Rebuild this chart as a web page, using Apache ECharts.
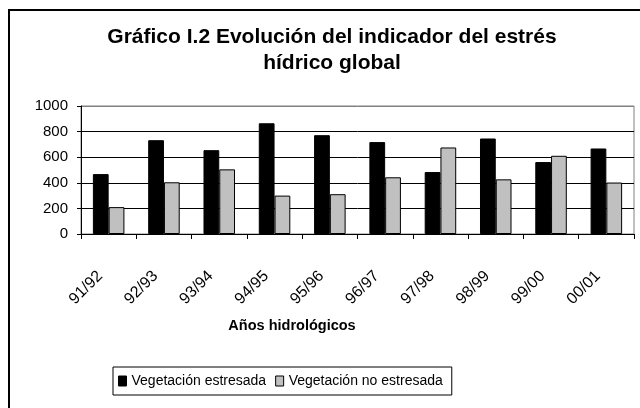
<!DOCTYPE html>
<html>
<head>
<meta charset="utf-8">
<script src="https://cdn.jsdelivr.net/npm/echarts@6/dist/echarts.min.js"></script>
<style>
  html, body { margin: 0; padding: 0; background: #fff; }
  #chart { width: 640px; height: 408px; }
</style>
</head>
<body>
<div id="chart"></div>
<script>
var years = ["91/92", "92/93", "93/94", "94/95", "95/96", "96/97", "97/98", "98/99", "99/00", "00/01"];
var estresada = [468, 733, 655, 865, 772, 718, 484, 746, 562, 668];
var noEstresada = [210, 404, 505, 300, 311, 443, 676, 427, 611, 402];
var yTicks = [0, 200, 400, 600, 800, 1000];

var font = "'Liberation Sans', Arial, sans-serif";
var chart = echarts.init(document.getElementById("chart"), null, { renderer: "canvas" });

var option = {
  animation: false,
  backgroundColor: "#fff",
  textStyle: { fontFamily: font, color: "#000" },
  graphic: [
    {
      type: "rect",
      shape: { x: 9, y: 10, width: 700, height: 500 },
      style: { fill: "none", stroke: "#000", lineWidth: 2 },
      silent: true
    },
    {
      type: "text",
      x: 332, y: 37,
      style: {
        text: "Gráfico I.2 Evolución del indicador del estrés",
        font: "bold 21px " + font, fill: "#000",
        textAlign: "center", textVerticalAlign: "middle"
      }
    },
    {
      type: "text",
      x: 332, y: 63,
      style: {
        text: "hídrico global",
        font: "bold 21px " + font, fill: "#000",
        textAlign: "center", textVerticalAlign: "middle"
      }
    },
    {
      type: "text",
      x: 292, y: 326,
      style: {
        text: "Años hidrológicos",
        font: "bold 14.5px " + font, fill: "#000",
        textAlign: "center", textVerticalAlign: "middle"
      }
    }
  ],
  legend: {
    left: 113, top: 367,
    padding: [7, 9, 7, 5],
    itemGap: 9,
    itemWidth: 8, itemHeight: 10,
    icon: "rect",
    borderColor: "#000", borderWidth: 1,
    itemStyle: { borderColor: "#000", borderWidth: 1 },
    textStyle: { fontSize: 14, color: "#000", fontFamily: font },
    data: ["Vegetación estresada", "Vegetación no estresada"]
  },
  grid: {
    left: 81, right: 6, top: 106, bottom: 174,
    show: true, borderColor: "#808080", borderWidth: 1
  },
  xAxis: {
    type: "category",
    data: years,
    axisLine: { lineStyle: { color: "#000", width: 1 } },
    axisTick: { show: true, length: 5, lineStyle: { color: "#000" } },
    axisLabel: {
      rotate: 45, fontSize: 16, color: "#000", fontFamily: font,
      margin: 31, padding: [0, 12, 0, 0], interval: 0
    }
  },
  yAxis: {
    type: "value",
    min: 0, max: 1000, interval: 200,
    axisLine: { show: true, lineStyle: { color: "#000", width: 1 } },
    axisTick: { show: true, length: 4, lineStyle: { color: "#000" } },
    axisLabel: {
      fontSize: 15, color: "#000", fontFamily: font, margin: 13,
      formatter: function (v) { return yTicks.indexOf(v) >= 0 ? String(v) : ""; }
    },
    splitLine: {
      show: true,
      lineStyle: { color: ["#000", "#000", "#000", "#000", "#000", "#808080"], width: 1 }
    }
  },
  series: [
    {
      name: "Vegetación estresada",
      type: "bar",
      data: estresada,
      barGap: "0%",
      barCategoryGap: "43%",
      itemStyle: { color: "#000", borderColor: "#000", borderWidth: 1 }
    },
    {
      name: "Vegetación no estresada",
      type: "bar",
      data: noEstresada,
      barGap: "0%",
      barCategoryGap: "43%",
      itemStyle: { color: "#c0c0c0", borderColor: "#000", borderWidth: 1 }
    }
  ]
};

chart.setOption(option);
</script>
</body>
</html>
